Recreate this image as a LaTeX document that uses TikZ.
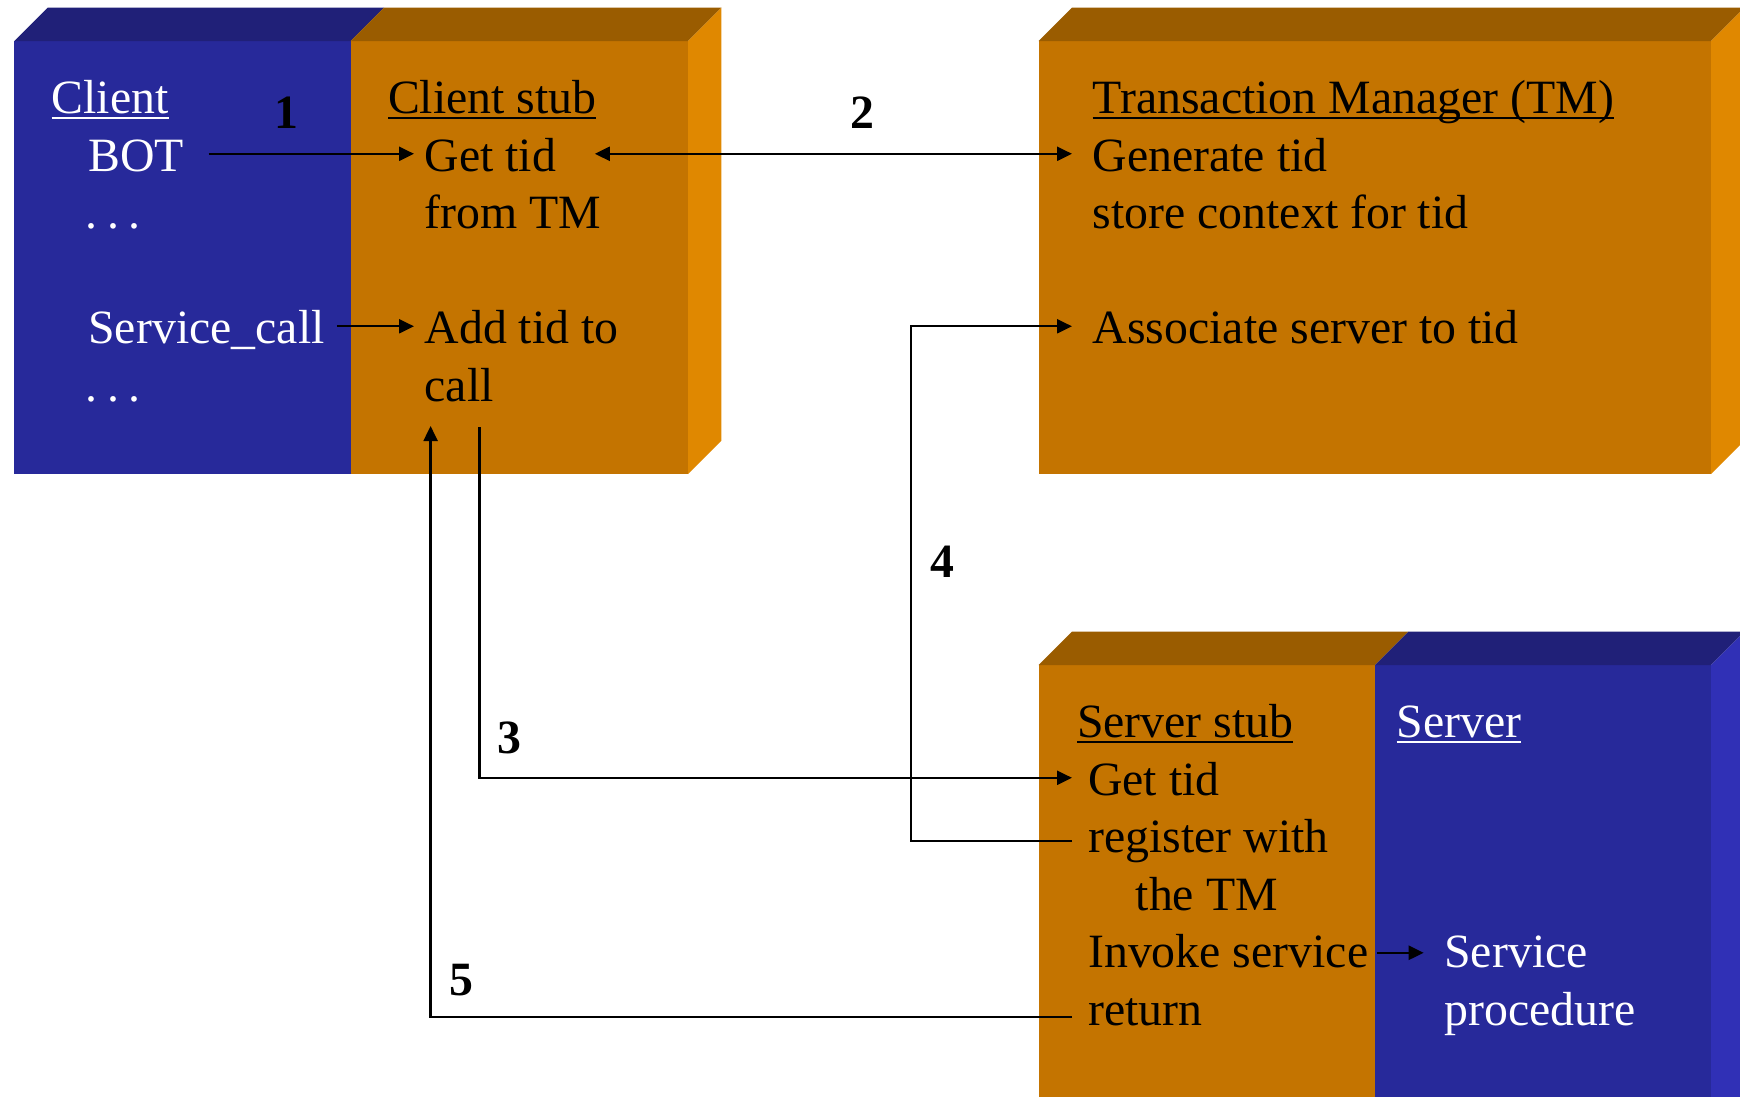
\documentclass[tikz,border=0pt]{standalone}
\usepackage{fontspec}
\setmainfont{Liberation Serif}
\usetikzlibrary{arrows.meta, calc}

% underline that runs straight through descenders
\newcommand{\ulbox}[1]{\setbox0\hbox{#1}\rlap{\rule[-1.7pt]{\wd0}{0.6pt}}\box0}

\begin{document}
\begin{tikzpicture}[
    % Styles
    >={Triangle[length=1.5mm, width=1.4mm]},
    txt/.style={
        anchor=base west, inner xsep=0pt, inner ysep=0pt,
        text height=9.8pt, text depth=0pt,
        font=\fontsize{13.6}{16.4}\selectfont
    },
    num/.style={
        anchor=base, inner sep=0pt,
        font=\fontsize{13.6}{16.4}\selectfont\bfseries
    },
    arrow/.style={->, line width=0.65pt},
    twoway/.style={<->, line width=0.65pt},
]
% Define colors
\definecolor{frontblue}{RGB}{39,41,154}
\definecolor{topblue}{RGB}{32,32,120}
\definecolor{sideblue}{RGB}{48,48,182}
\definecolor{frontorange}{RGB}{196,116,0}
\definecolor{toporange}{RGB}{154,92,0}
\definecolor{sideorange}{RGB}{224,136,0}

\useasboundingbox (0,0) rectangle (17.4,-10.96);
\clip (0,0) rectangle (17.4,-10.96);

% Client block
\fill[frontblue] (0.144,-4.74) rectangle (3.507,-0.41);
\fill[frontorange] (3.507,-4.74) rectangle (6.88,-0.41);
\fill[topblue] (0.144,-0.41) -- (0.477,-0.077) -- (3.84,-0.077) -- (3.507,-0.41) -- cycle;
\fill[toporange] (3.507,-0.41) -- (3.84,-0.077) -- (7.213,-0.077) -- (6.88,-0.41) -- cycle;
\fill[sideorange] (6.88,-0.41) -- (7.213,-0.077) -- (7.213,-4.407) -- (6.88,-4.74) -- cycle;

% Transaction manager block
\fill[frontorange] (10.387,-4.74) rectangle (17.11,-0.41);
\fill[toporange] (10.387,-0.41) -- (10.72,-0.077) -- (17.443,-0.077) -- (17.11,-0.41) -- cycle;
\fill[sideorange] (17.11,-0.41) -- (17.443,-0.077) -- (17.443,-4.407) -- (17.11,-4.74) -- cycle;

% Server block
\fill[frontorange] (10.387,-11.2) rectangle (13.75,-6.65);
\fill[frontblue] (13.75,-11.2) rectangle (17.11,-6.65);
\fill[toporange] (10.387,-6.65) -- (10.72,-6.317) -- (14.083,-6.317) -- (13.75,-6.65) -- cycle;
\fill[topblue] (13.75,-6.65) -- (14.083,-6.317) -- (17.443,-6.317) -- (17.11,-6.65) -- cycle;
\fill[sideblue] (17.11,-6.65) -- (17.443,-6.317) -- (17.443,-11.2) -- (17.11,-11.2) -- cycle;

% Client
\node[txt, text=white] (client) at (0.51,-1.135) {\ulbox{Client}};
\node[txt, text=white] (bot) at (0.877,-1.71) {BOT};
\node[txt, text=white] (dots1) at (0.85,-2.285) {.\kern0.2em.\kern0.2em.};
\node[txt, text=white] (svccall) at (0.877,-3.435) {Service\_call};
\node[txt, text=white] (dots2) at (0.85,-4.01) {.\kern0.2em.\kern0.2em.};

% Client stub
\node[txt] (stubtitle) at (3.873,-1.135) {\ulbox{Client stub}};
\node[txt] (gettid) at (4.24,-1.71) {Get tid};
\node[txt] (fromtm) at (4.24,-2.285) {from TM};
\node[txt] (addtid) at (4.24,-3.435) {Add tid to};
\node[txt] (call) at (4.24,-4.01) {call};

% Transaction manager
\node[txt] (tmtitle) at (10.92,-1.135) {\ulbox{Transaction Manager (TM)}};
\node[txt] (gentid) at (10.92,-1.71) {Generate tid};
\node[txt] (store) at (10.92,-2.285) {store context for tid};
\node[txt] (assoc) at (10.92,-3.435) {Associate server to tid};

% Server stub
\node[txt] (sstitle) at (10.764,-7.37) {\ulbox{Server stub}};
\node[txt] (sgettid) at (10.875,-7.95) {Get tid};
\node[txt] (register) at (10.875,-8.52) {register with};
\node[txt] (thetm) at (11.35,-9.10) {the TM};
\node[txt] (invoke) at (10.875,-9.67) {Invoke service};
\node[txt] (ret) at (10.875,-10.25) {return};

% Server
\node[txt, text=white] (srvtitle) at (13.96,-7.37) {\ulbox{Server}};
\node[txt, text=white] (service) at (14.437,-9.67) {Service};
\node[txt, text=white] (proc) at (14.437,-10.25) {procedure};

% Step numbers
\node[num] (n1) at (2.863,-1.28) {1};
\node[num] (n2) at (8.62,-1.28) {2};
\node[num] (n3) at (5.094,-7.53) {3};
\node[num] (n4) at (9.42,-5.775) {4};
\node[num] (n5) at (4.616,-9.95) {5};

% Connectors
\coordinate (from3) at (4.794,-4.27);
\coordinate (to5) at (4.306,-4.26);
\coordinate (bend4) at (9.11,0);

\draw[arrow, shorten <=2.4mm, shorten >=1mm] (bot.east) -- (gettid.west);
\draw[twoway, shorten <=3.8mm, shorten >=2mm] (gettid.east) -- (gentid.west);
\draw[arrow, shorten <=1.15mm, shorten >=1mm] (svccall.east) -- (addtid.west);
\draw[arrow, shorten >=1.55mm] (from3) |- (sgettid.west);
\draw[arrow, shorten <=1.55mm, shorten >=2mm]
    ([yshift=-0.6mm]register.west) -| (bend4 |- assoc.west) -- (assoc.west);
\draw[arrow, shorten <=1.55mm] ([yshift=-0.9mm]ret.west) -| (to5);
\draw[arrow, shorten <=0.8mm, shorten >=2mm] ([yshift=-0.3mm]invoke.east) -- ([yshift=-0.3mm]service.west);

\end{tikzpicture}
\end{document}
